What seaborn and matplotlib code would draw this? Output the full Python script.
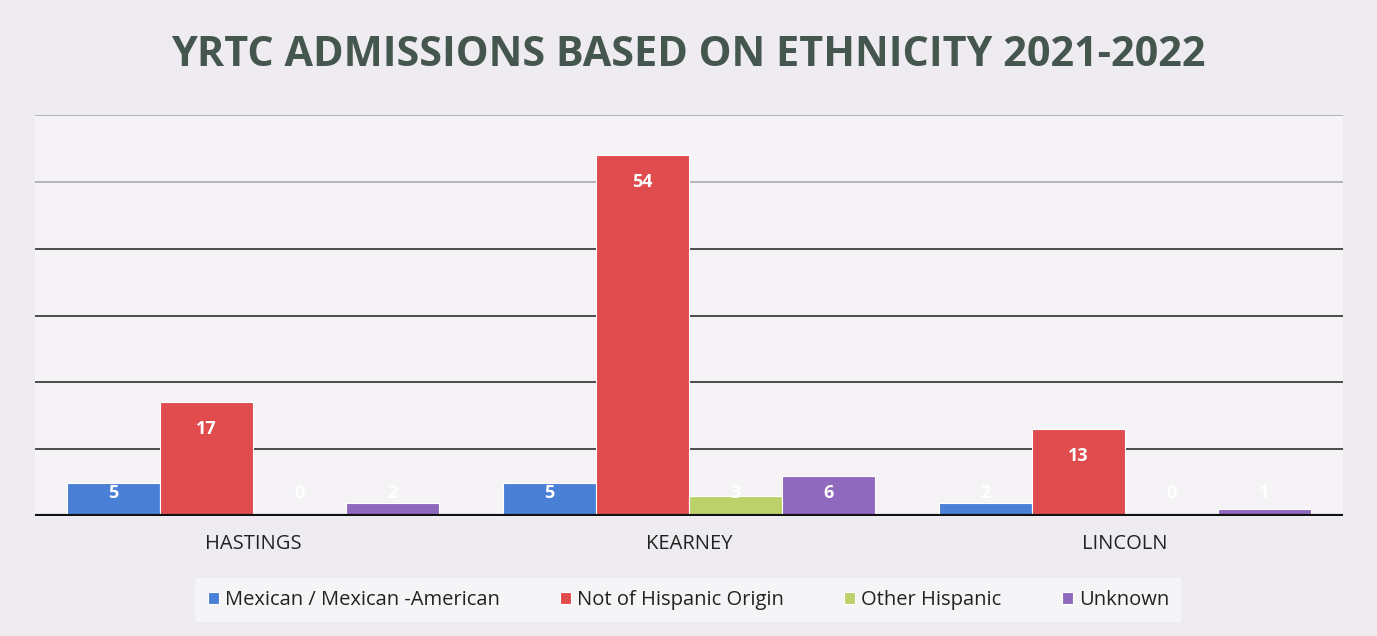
import matplotlib
matplotlib.use("Agg")
import matplotlib.pyplot as plt
import seaborn as sns
import pandas as pd

categories = ["HASTINGS", "KEARNEY", "LINCOLN"]
series = ["Mexican / Mexican -American", "Not of Hispanic Origin", "Other Hispanic", "Unknown"]
mexican = [5, 5, 2]
not_hispanic = [17, 54, 13]
other_hispanic = [0, 3, 0]
unknown = [2, 6, 1]
colors = ["#4a7fd6", "#e04c4e", "#bcd16a", "#8f69bd"]

rows = []
for s, vals in zip(series, [mexican, not_hispanic, other_hispanic, unknown]):
    for c, v in zip(categories, vals):
        rows.append({"Location": c, "Ethnicity": s, "Count": v})
df = pd.DataFrame(rows)

sns.set_theme(style="white")
plt.rcParams["font.family"] = ["Open Sans", "DejaVu Sans"]

fig = plt.figure(figsize=(13.77, 6.36), dpi=100, facecolor="#eeecf0")
ax = fig.add_axes([35/1377, 1-516/636, (1343-35)/1377, (516-115)/636])
ax.set_facecolor("#f5f3f6")

sns.barplot(data=df, x="Location", y="Count", hue="Ethnicity", order=categories,
            hue_order=series, palette=colors, saturation=1, width=0.853, ax=ax,
            edgecolor="white", linewidth=0.8, legend=True, zorder=3)

ax.set_ylim(0, 60)
ax.set_xlim(-0.5, 2.5)
ax.set_yticks(range(0, 61, 10))
for y in range(10, 61, 10):
    col = "#3e3e3e" if y <= 40 else "#b0b0b3"
    ax.axhline(y, color=col, lw=1.3, zorder=1)
ax.axhline(0, color="#111111", lw=3, zorder=4)
ax.tick_params(axis="y", left=False, labelleft=False)
ax.tick_params(axis="x", bottom=False, labelsize=14.5, colors="#222222", pad=7)
for sp in ax.spines.values():
    sp.set_visible(False)
ax.set_xlabel("")
ax.set_ylabel("")

for cont in ax.containers:
    for bar in cont:
        v = bar.get_height()
        x = bar.get_x() + bar.get_width() / 2
        y = max(v - 4, 3.5)
        ax.text(x, y, f"{int(v)}", ha="center", va="center", color="white",
                fontsize=13, fontweight="bold", zorder=5)

leg = ax.legend(loc="center", bbox_to_anchor=(0.5, (636-600)/636), bbox_transform=fig.transFigure,
                ncol=4, frameon=True, fontsize=14.5, handlelength=0.55, handleheight=0.55,
                handletextpad=0.3, columnspacing=3.0, borderpad=0.6, borderaxespad=0)
leg.get_frame().set_facecolor("#f8f7f9")
leg.get_frame().set_edgecolor("none")
for t in leg.get_texts():
    t.set_color("#222222")

fig.text(0.5, 1-55/636, "YRTC ADMISSIONS BASED ON ETHNICITY 2021-2022", ha="center", va="center",
         fontsize=29.8, fontweight="bold", color="#44564e")

fig.savefig("out.png", dpi=100, facecolor=fig.get_facecolor())
